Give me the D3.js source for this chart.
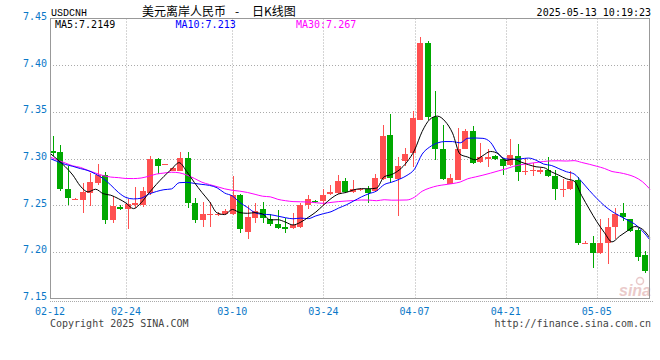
<!DOCTYPE html>
<html><head><meta charset="utf-8">
<script src="https://cdn.jsdelivr.net/npm/d3@7"></script>
<style>body{margin:0;background:#fff;} svg{display:block;}</style>
</head><body>
<svg id="c" width="660" height="360"></svg>
<script>
// ---- data ----
const dates = ["02-12","02-13","02-14","02-15","02-17","02-18","02-19","02-20","02-21","02-22",
"02-24","02-25","02-26","02-27","02-28","03-01","03-02","03-03","03-04","03-05","03-06","03-07","03-08","03-09",
"03-10","03-11","03-12","03-13","03-14","03-15","03-17","03-18","03-19","03-20","03-21","03-22",
"03-24","03-25","03-26","03-27","03-28","03-29","03-31","04-01","04-02","04-03","04-04","04-05",
"04-07","04-08","04-09","04-10","04-11","04-12","04-14","04-15","04-16","04-17","04-18","04-19",
"04-21","04-22","04-23","04-24","04-25","04-26","04-28","04-29","04-30","05-01","05-02","05-03",
"05-05","05-06","05-07","05-08","05-09","05-10","05-12","05-13"];
const open  = [7.3084,7.3074,7.2678,7.2566,7.2553,7.2632,7.2739,7.2828,7.2340,7.2483,
7.2454,7.2497,7.2500,7.2632,7.2999,7.2940,7.2871,7.2871,7.3006,7.2518,7.2337,7.2406,7.2398,7.2408,
7.2405,7.2614,7.2208,7.2363,7.2461,7.2350,7.2301,7.2267,7.2251,7.2265,7.2500,7.2550,
7.2543,7.2620,7.2630,7.2756,7.2639,7.2660,7.2675,7.2657,7.2785,7.3255,7.2782,7.2970,
7.3060,7.3416,7.4241,7.3444,7.3106,7.2732,7.2775,7.3103,7.3291,7.2959,7.2999,7.3023,
7.2996,7.2927,7.3031,7.2853,7.2863,7.2853,7.2881,7.2817,7.2660,7.2668,7.2767,7.2088,
7.2091,7.1984,7.2091,7.2265,7.2411,7.2347,7.2230,7.1963];
const high  = [7.3245,7.3141,7.2924,7.2572,7.2739,7.2846,7.2942,7.2853,7.2593,7.2497,
7.2561,7.2697,7.2692,7.3031,7.3002,7.2946,7.2908,7.3070,7.3070,7.2579,7.2532,7.2532,7.2430,7.2464,
7.2810,7.2620,7.2489,7.2518,7.2529,7.2401,7.2443,7.2365,7.2419,7.2518,7.2614,7.2553,
7.2675,7.2721,7.2828,7.2793,7.2767,7.2680,7.2705,7.2839,7.3362,7.3480,7.3013,7.3109,
7.3504,7.4299,7.4256,7.3718,7.3362,7.2839,7.3330,7.3316,7.3351,7.3167,7.3103,7.3036,
7.3006,7.3213,7.3159,7.3010,7.2953,7.2897,7.3017,7.2881,7.2782,7.2871,7.2799,7.2115,
7.2166,7.2355,7.2365,7.2465,7.2518,7.2347,7.2258,7.2008];
const low   = [7.3031,7.2650,7.2497,7.2564,7.2419,7.2489,7.2721,7.2301,7.2304,7.2443,
7.2248,7.2472,7.2483,7.2614,7.2835,7.2938,7.2866,7.2863,7.2465,7.2312,7.2265,7.2265,7.2380,7.2394,
7.2390,7.2205,7.2133,7.2304,7.2304,7.2272,7.2240,7.2205,7.2246,7.2254,7.2454,7.2528,
7.2489,7.2609,7.2625,7.2632,7.2632,7.2655,7.2526,7.2652,7.2775,7.2737,7.2382,7.2917,
7.2910,7.3416,7.3416,7.2988,7.2767,7.2729,7.2767,7.3100,7.2942,7.2953,7.2908,7.2983,
7.2828,7.2917,7.2756,7.2828,7.2810,7.2839,7.2801,7.2553,7.2585,7.2662,7.2069,7.2080,
7.1829,7.1979,7.1866,7.2141,7.2329,7.2211,7.1902,7.1778];
const close = [7.3058,7.2675,7.2579,7.2570,7.2639,7.2746,7.2820,7.2340,7.2489,7.2454,
7.2513,7.2518,7.2657,7.2999,7.2924,7.2944,7.2903,7.3006,7.2526,7.2340,7.2408,7.2410,7.2402,7.2436,
7.2614,7.2240,7.2372,7.2438,7.2361,7.2299,7.2251,7.2243,7.2286,7.2507,7.2561,7.2532,
7.2614,7.2639,7.2756,7.2639,7.2675,7.2675,7.2632,7.2796,7.3245,7.2796,7.2924,7.3052,
7.3434,7.4241,7.3440,7.3103,7.2785,7.2793,7.3106,7.3291,7.2953,7.3013,7.3013,7.2994,
7.2917,7.3034,7.2853,7.2871,7.2881,7.2874,7.2810,7.2668,7.2678,7.2764,7.2094,7.2094,
7.1984,7.2091,7.2269,7.2401,7.2372,7.2222,7.1947,7.1795];
const ma5Lead  = [7.3056,7.2988,7.2913,7.2823];
const ma10Lead = [7.2999,7.2967,7.2937,7.2916,7.2892,7.2871,7.2833,7.2785,7.2716];
const ma30Lead = [7.3017,7.2982,7.2952,7.2921,7.2905,7.2872,7.2844,7.2817,7.2801,7.2795,
7.2786,7.2785,7.2791,7.2810,7.2833,7.2844,7.2853,7.2847,7.2823,7.2787,7.2746,7.2721,7.2698,
7.2675,7.2659,7.2650,7.2636,7.2616,7.2596];
const yTicks = [7.45,7.40,7.35,7.30,7.25,7.20,7.15];
const xTickDates = ["02-12","02-24","03-10","03-24","04-07","04-21","05-05"];
const maNames = ["MA5","MA10","MA30"];
const maLegend = ["7.2149","7.213","7.267"];
const maColors = ["#000000","#0000ff","#ff00ff"];

// ---- drawing ----
const svg = d3.select("#c");
const L = 50, R = 650, T = 18.5, B = 298.5;
const mono = "'DejaVu Sans Mono', monospace";
const y = d3.scaleLinear().domain([7.15, 7.45]).range([B, T]);
const xb = d3.scaleBand().domain(dates).range([50, 648]).paddingInner(0.2).paddingOuter(0);
const xp = d3.scalePoint().domain(dates).range([L, R]);

svg.append("rect").attr("width",660).attr("height",360).attr("fill","#fff");

// horizontal grid
svg.append("g").selectAll("line").data(yTicks.filter(v => v < 7.449 && v > 7.151)).join("line")
  .attr("x1", L).attr("x2", R)
  .attr("y1", d => Math.round(y(d)) + 0.5).attr("y2", d => Math.round(y(d)) + 0.5)
  .attr("stroke", "#aaa").attr("stroke-dasharray", "1,2");
// vertical grid
svg.append("g").selectAll("line").data(xTickDates.slice(1)).join("line")
  .attr("x1", d => Math.round(xp(d)) + 0.5).attr("x2", d => Math.round(xp(d)) + 0.5)
  .attr("y1", T).attr("y2", B)
  .attr("stroke", "#aaa").attr("stroke-dasharray", "1,2");
// dotted line under the frame
svg.append("line").attr("x1", L).attr("x2", 653).attr("y1", 301.5).attr("y2", 301.5)
  .attr("stroke", "#aaa").attr("stroke-dasharray", "1,1");

// watermark
const wm = svg.append("g").attr("opacity", 0.55);
wm.append("text").attr("x", 619).attr("y", 296).text("sina")
  .attr("font-family", "'Liberation Sans', sans-serif").attr("font-style", "italic")
  .attr("font-weight", "bold").attr("font-size", 16).attr("fill", "#d9a0a0");
wm.append("circle").attr("cx", 640).attr("cy", 281).attr("r", 3.5)
  .attr("fill", "none").attr("stroke", "#d9a0a0").attr("stroke-width", 1.5);

// candles
const idx = d3.range(dates.length);
const up = i => close[i] >= open[i];
const cg = svg.append("g").attr("shape-rendering", "crispEdges");
cg.selectAll("rect.w").data(idx).join("rect").attr("class", "w")
  .attr("x", i => Math.round(xb(dates[i])) + 3).attr("width", 1)
  .attr("y", i => Math.round(y(high[i])))
  .attr("height", i => Math.max(1, Math.round(y(low[i])) - Math.round(y(high[i]))))
  .attr("fill", i => up(i) ? "#ff5050" : "#00a800");
cg.selectAll("rect.b").data(idx).join("rect").attr("class", "b")
  .attr("x", i => Math.round(xb(dates[i]))).attr("width", Math.round(xb.bandwidth()))
  .attr("y", i => Math.round(y(Math.max(open[i], close[i]))))
  .attr("height", i => Math.max(1, Math.round(y(Math.min(open[i], close[i]))) - Math.round(y(Math.max(open[i], close[i])))))
  .attr("fill", i => up(i) ? "#ff5050" : "#00a800");

// moving averages
function movingAvg(n, lead) {
  return close.map((c, i) => i < n - 1 ? lead[i] : d3.mean(close.slice(i - n + 1, i + 1)));
}
const maSeries = [movingAvg(5, ma5Lead), movingAvg(10, ma10Lead), movingAvg(30, ma30Lead)];
const line = d3.line().x((d, i) => xp(dates[i])).y(d => y(d)).curve(d3.curveMonotoneX);
[2, 1, 0].forEach(k => {
  svg.append("path").attr("d", line(maSeries[k])).attr("fill", "none")
    .attr("stroke", maColors[k]).attr("stroke-width", 1);
});

// frame
svg.append("rect").attr("x", 50.5).attr("y", 18.5).attr("width", 599).attr("height", 280)
  .attr("fill", "none").attr("stroke", "#999");

// y labels
svg.append("g").selectAll("text").data(yTicks).join("text")
  .attr("x", 47).attr("y", d => y(d) + 1.5).attr("text-anchor", "end")
  .attr("font-family", mono).attr("font-size", 10).attr("fill", "#0a78c8")
  .text(d => d.toFixed(2));
// x labels
svg.append("g").selectAll("text").data(xTickDates).join("text")
  .attr("x", d => xp(d)).attr("y", 315).attr("text-anchor", "middle")
  .attr("font-family", mono).attr("font-size", 10).attr("fill", "#0a78c8")
  .text(d => d);

// legend
svg.append("g").selectAll("text").data(maNames).join("text")
  .attr("x", (d, i) => 55 + i * 120.5).attr("y", 28)
  .attr("font-family", mono).attr("font-size", 10).attr("fill", (d, i) => maColors[i])
  .text((d, i) => d + ":" + maLegend[i]);

// header texts
svg.append("text").attr("x", 51).attr("y", 16).text("USDCNH")
  .attr("font-family", "'Liberation Mono', monospace").attr("font-size", 10).attr("fill", "#000");
const title = svg.append("text").attr("y", 16).attr("font-family", "'Noto Sans CJK SC', sans-serif")
  .attr("font-size", 12).attr("fill", "#000");
title.append("tspan").attr("x", 142).text("美元离岸人民币");
title.append("tspan").attr("x", 235).text("-");
title.append("tspan").attr("x", 252).text("日K线图");
svg.append("text").attr("x", 651).attr("y", 16).attr("text-anchor", "end").text("2025-05-13 10:19:23")
  .attr("font-family", mono).attr("font-size", 10).attr("fill", "#000");

// footer
svg.append("text").attr("x", 50).attr("y", 327).text("Copyright 2025 SINA.COM")
  .attr("font-family", mono).attr("font-size", 10).attr("fill", "#444");
svg.append("text").attr("x", 651).attr("y", 327).attr("text-anchor", "end").text("http://finance.sina.com.cn")
  .attr("font-family", mono).attr("font-size", 10).attr("fill", "#444");
</script>
</body></html>
